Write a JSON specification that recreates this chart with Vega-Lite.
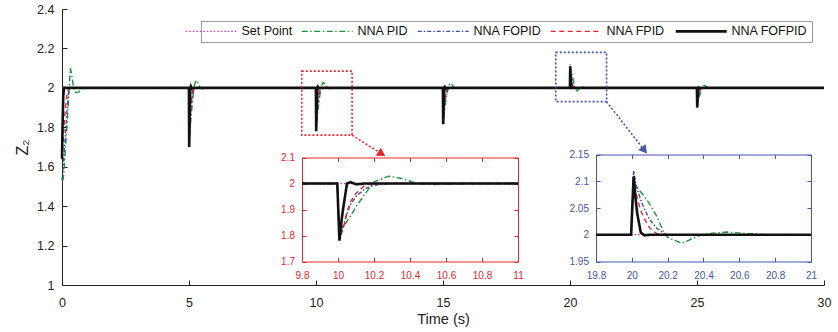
{
  "$schema": "https://vega.github.io/schema/vega-lite/v6.json",
  "width": 762,
  "height": 276,
  "autosize": {"type": "none"},
  "padding": {"left": 62, "top": 9, "right": 14, "bottom": 47},
  "config": {
    "view": {"stroke": null},
    "font": "Liberation Sans",
    "axis": {"grid": false, "labelFont": "Liberation Sans", "titleFont": "Liberation Sans", "labelFlush": false, "labelOverlap": false, "titleFontWeight": "normal", "domainWidth": 1, "tickWidth": 1}
  },
  "datasets": {
    "z": [
      {"t": 0, "Set Point": 2, "NNA PID": 1.53, "NNA FOPID": 1.53, "NNA FPID": 1.64, "NNA FOFPID": 1.64},
      {"t": 0.02, "Set Point": 2, "NNA PID": 1.53, "NNA FOPID": 1.56, "NNA FPID": 1.68, "NNA FOFPID": 1.8},
      {"t": 0.05, "Set Point": 2, "NNA PID": 1.54, "NNA FOPID": 1.6, "NNA FPID": 1.74, "NNA FOFPID": 1.96},
      {"t": 0.08, "Set Point": 2, "NNA PID": 1.58, "NNA FOPID": 1.66, "NNA FPID": 1.8, "NNA FOFPID": 2},
      {"t": 0.1, "Set Point": 2, "NNA PID": 1.62, "NNA FOPID": 1.7, "NNA FPID": 1.84, "NNA FOFPID": 2},
      {"t": 0.15, "Set Point": 2, "NNA PID": 1.72, "NNA FOPID": 1.79, "NNA FPID": 1.92, "NNA FOFPID": 2},
      {"t": 0.2, "Set Point": 2, "NNA PID": 1.82, "NNA FOPID": 1.89, "NNA FPID": 1.97, "NNA FOFPID": 2},
      {"t": 0.25, "Set Point": 2, "NNA PID": 1.92, "NNA FOPID": 1.97, "NNA FPID": 1.99, "NNA FOFPID": 2},
      {"t": 0.3, "Set Point": 2, "NNA PID": 2.04, "NNA FOPID": 1.995, "NNA FPID": 2, "NNA FOFPID": 2},
      {"t": 0.33, "Set Point": 2, "NNA PID": 2.1, "NNA FOPID": 2, "NNA FPID": 2, "NNA FOFPID": 2},
      {"t": 0.38, "Set Point": 2, "NNA PID": 2.07, "NNA FOPID": 2, "NNA FPID": 2, "NNA FOFPID": 2},
      {"t": 0.45, "Set Point": 2, "NNA PID": 2.0, "NNA FOPID": 2, "NNA FPID": 2, "NNA FOFPID": 2},
      {"t": 0.55, "Set Point": 2, "NNA PID": 1.975, "NNA FOPID": 2, "NNA FPID": 2, "NNA FOFPID": 2},
      {"t": 0.65, "Set Point": 2, "NNA PID": 1.978, "NNA FOPID": 2, "NNA FPID": 2, "NNA FOFPID": 2},
      {"t": 0.8, "Set Point": 2, "NNA PID": 1.995, "NNA FOPID": 2, "NNA FPID": 2, "NNA FOFPID": 2},
      {"t": 1.0, "Set Point": 2, "NNA PID": 2, "NNA FOPID": 2, "NNA FPID": 2, "NNA FOFPID": 2},
      {"t": 4.996, "Set Point": 2, "NNA PID": 2, "NNA FOPID": 2, "NNA FPID": 2, "NNA FOFPID": 2},
      {"t": 5.008, "Set Point": 2, "NNA PID": 1.727, "NNA FOPID": 1.727, "NNA FPID": 1.715, "NNA FOFPID": 1.7},
      {"t": 5.02, "Set Point": 2, "NNA PID": 1.754, "NNA FOPID": 1.754, "NNA FPID": 1.74, "NNA FOFPID": 1.81},
      {"t": 5.03, "Set Point": 2, "NNA PID": 1.775, "NNA FOPID": 1.78, "NNA FPID": 1.766, "NNA FOFPID": 1.88},
      {"t": 5.05, "Set Point": 2, "NNA PID": 1.8, "NNA FOPID": 1.844, "NNA FPID": 1.85, "NNA FOFPID": 2},
      {"t": 5.07, "Set Point": 2, "NNA PID": 1.83, "NNA FOPID": 1.892, "NNA FPID": 1.904, "NNA FOFPID": 2.007},
      {"t": 5.1, "Set Point": 2, "NNA PID": 1.877, "NNA FOPID": 1.93, "NNA FPID": 1.95, "NNA FOFPID": 1.996},
      {"t": 5.15, "Set Point": 2, "NNA PID": 1.946, "NNA FOPID": 1.973, "NNA FPID": 1.991, "NNA FOFPID": 2},
      {"t": 5.2, "Set Point": 2, "NNA PID": 2.009, "NNA FOPID": 1.991, "NNA FPID": 2, "NNA FOFPID": 2},
      {"t": 5.28, "Set Point": 2, "NNA PID": 2.038, "NNA FOPID": 1.998, "NNA FPID": 2, "NNA FOFPID": 2},
      {"t": 5.35, "Set Point": 2, "NNA PID": 2.027, "NNA FOPID": 2, "NNA FPID": 2, "NNA FOFPID": 2},
      {"t": 5.44, "Set Point": 2, "NNA PID": 2, "NNA FOPID": 2, "NNA FPID": 2, "NNA FOFPID": 2},
      {"t": 5.53, "Set Point": 2, "NNA PID": 1.995, "NNA FOPID": 2, "NNA FPID": 2, "NNA FOFPID": 2},
      {"t": 5.65, "Set Point": 2, "NNA PID": 1.997, "NNA FOPID": 2, "NNA FPID": 2, "NNA FOFPID": 2},
      {"t": 5.75, "Set Point": 2, "NNA PID": 2, "NNA FOPID": 2, "NNA FPID": 2, "NNA FOFPID": 2},
      {"t": 9.8, "Set Point": 2, "NNA PID": 2, "NNA FOPID": 2, "NNA FPID": 2, "NNA FOFPID": 2},
      {"t": 9.996, "Set Point": 2, "NNA PID": 2, "NNA FOPID": 2, "NNA FPID": 2, "NNA FOFPID": 2},
      {"t": 10.008, "Set Point": 2, "NNA PID": 1.8, "NNA FOPID": 1.8, "NNA FPID": 1.79, "NNA FOFPID": 1.78},
      {"t": 10.02, "Set Point": 2, "NNA PID": 1.82, "NNA FOPID": 1.82, "NNA FPID": 1.81, "NNA FOFPID": 1.86},
      {"t": 10.03, "Set Point": 2, "NNA PID": 1.834, "NNA FOPID": 1.84, "NNA FPID": 1.828, "NNA FOFPID": 1.91},
      {"t": 10.05, "Set Point": 2, "NNA PID": 1.855, "NNA FOPID": 1.885, "NNA FPID": 1.89, "NNA FOFPID": 2},
      {"t": 10.07, "Set Point": 2, "NNA PID": 1.875, "NNA FOPID": 1.92, "NNA FPID": 1.93, "NNA FOFPID": 2.005},
      {"t": 10.1, "Set Point": 2, "NNA PID": 1.91, "NNA FOPID": 1.95, "NNA FPID": 1.962, "NNA FOFPID": 1.997},
      {"t": 10.15, "Set Point": 2, "NNA PID": 1.96, "NNA FOPID": 1.98, "NNA FPID": 1.994, "NNA FOFPID": 2},
      {"t": 10.2, "Set Point": 2, "NNA PID": 2.006, "NNA FOPID": 1.993, "NNA FPID": 2, "NNA FOFPID": 2},
      {"t": 10.28, "Set Point": 2, "NNA PID": 2.028, "NNA FOPID": 1.999, "NNA FPID": 2, "NNA FOFPID": 2},
      {"t": 10.35, "Set Point": 2, "NNA PID": 2.02, "NNA FOPID": 2, "NNA FPID": 2, "NNA FOFPID": 2},
      {"t": 10.44, "Set Point": 2, "NNA PID": 2, "NNA FOPID": 2, "NNA FPID": 2, "NNA FOFPID": 2},
      {"t": 10.53, "Set Point": 2, "NNA PID": 1.996, "NNA FOPID": 2, "NNA FPID": 2, "NNA FOFPID": 2},
      {"t": 10.65, "Set Point": 2, "NNA PID": 1.998, "NNA FOPID": 2, "NNA FPID": 2, "NNA FOFPID": 2},
      {"t": 10.75, "Set Point": 2, "NNA PID": 2, "NNA FOPID": 2, "NNA FPID": 2, "NNA FOFPID": 2},
      {"t": 11, "Set Point": 2, "NNA PID": 2, "NNA FOPID": 2, "NNA FPID": 2, "NNA FOFPID": 2},
      {"t": 14.996, "Set Point": 2, "NNA PID": 2, "NNA FOPID": 2, "NNA FPID": 2, "NNA FOFPID": 2},
      {"t": 15.008, "Set Point": 2, "NNA PID": 1.832, "NNA FOPID": 1.832, "NNA FPID": 1.824, "NNA FOFPID": 1.815},
      {"t": 15.02, "Set Point": 2, "NNA PID": 1.848, "NNA FOPID": 1.848, "NNA FPID": 1.84, "NNA FOFPID": 1.88},
      {"t": 15.03, "Set Point": 2, "NNA PID": 1.861, "NNA FOPID": 1.865, "NNA FPID": 1.855, "NNA FOFPID": 1.925},
      {"t": 15.05, "Set Point": 2, "NNA PID": 1.878, "NNA FOPID": 1.904, "NNA FPID": 1.907, "NNA FOFPID": 2},
      {"t": 15.07, "Set Point": 2, "NNA PID": 1.895, "NNA FOPID": 1.933, "NNA FPID": 1.94, "NNA FOFPID": 2.004},
      {"t": 15.1, "Set Point": 2, "NNA PID": 1.924, "NNA FOPID": 1.957, "NNA FPID": 1.968, "NNA FOFPID": 1.997},
      {"t": 15.15, "Set Point": 2, "NNA PID": 1.967, "NNA FOPID": 1.983, "NNA FPID": 1.995, "NNA FOFPID": 2},
      {"t": 15.2, "Set Point": 2, "NNA PID": 2.005, "NNA FOPID": 1.994, "NNA FPID": 2, "NNA FOFPID": 2},
      {"t": 15.28, "Set Point": 2, "NNA PID": 2.024, "NNA FOPID": 1.999, "NNA FPID": 2, "NNA FOFPID": 2},
      {"t": 15.35, "Set Point": 2, "NNA PID": 2.017, "NNA FOPID": 2, "NNA FPID": 2, "NNA FOFPID": 2},
      {"t": 15.44, "Set Point": 2, "NNA PID": 2, "NNA FOPID": 2, "NNA FPID": 2, "NNA FOFPID": 2},
      {"t": 15.53, "Set Point": 2, "NNA PID": 1.997, "NNA FOPID": 2, "NNA FPID": 2, "NNA FOFPID": 2},
      {"t": 15.65, "Set Point": 2, "NNA PID": 1.998, "NNA FOPID": 2, "NNA FPID": 2, "NNA FOFPID": 2},
      {"t": 15.75, "Set Point": 2, "NNA PID": 2, "NNA FOPID": 2, "NNA FPID": 2, "NNA FOFPID": 2},
      {"t": 19.8, "Set Point": 2, "NNA PID": 2, "NNA FOPID": 2, "NNA FPID": 2, "NNA FOFPID": 2},
      {"t": 19.996, "Set Point": 2, "NNA PID": 2, "NNA FOPID": 2, "NNA FPID": 2, "NNA FOFPID": 2},
      {"t": 20.01, "Set Point": 2, "NNA PID": 2.1, "NNA FOPID": 2.12, "NNA FPID": 2.1, "NNA FOFPID": 2.109},
      {"t": 20.02, "Set Point": 2, "NNA PID": 2.093, "NNA FOPID": 2.1, "NNA FPID": 2.085, "NNA FOFPID": 2.07},
      {"t": 20.03, "Set Point": 2, "NNA PID": 2.088, "NNA FOPID": 2.085, "NNA FPID": 2.068, "NNA FOFPID": 2.04},
      {"t": 20.05, "Set Point": 2, "NNA PID": 2.08, "NNA FOPID": 2.065, "NNA FPID": 2.045, "NNA FOFPID": 2.004},
      {"t": 20.07, "Set Point": 2, "NNA PID": 2.072, "NNA FOPID": 2.048, "NNA FPID": 2.03, "NNA FOFPID": 1.999},
      {"t": 20.1, "Set Point": 2, "NNA PID": 2.057, "NNA FOPID": 2.028, "NNA FPID": 2.0125, "NNA FOFPID": 2},
      {"t": 20.14, "Set Point": 2, "NNA PID": 2.034, "NNA FOPID": 2.012, "NNA FPID": 2.002, "NNA FOFPID": 2},
      {"t": 20.18, "Set Point": 2, "NNA PID": 2.003, "NNA FOPID": 2.002, "NNA FPID": 2, "NNA FOFPID": 2},
      {"t": 20.2, "Set Point": 2, "NNA PID": 1.995, "NNA FOPID": 2, "NNA FPID": 2, "NNA FOFPID": 2},
      {"t": 20.28, "Set Point": 2, "NNA PID": 1.984, "NNA FOPID": 2, "NNA FPID": 2, "NNA FOFPID": 2},
      {"t": 20.38, "Set Point": 2, "NNA PID": 1.999, "NNA FOPID": 2, "NNA FPID": 2, "NNA FOFPID": 2},
      {"t": 20.45, "Set Point": 2, "NNA PID": 2.003, "NNA FOPID": 2, "NNA FPID": 2, "NNA FOFPID": 2},
      {"t": 20.53, "Set Point": 2, "NNA PID": 2.005, "NNA FOPID": 2, "NNA FPID": 2, "NNA FOFPID": 2},
      {"t": 20.65, "Set Point": 2, "NNA PID": 2.002, "NNA FOPID": 2, "NNA FPID": 2, "NNA FOFPID": 2},
      {"t": 20.75, "Set Point": 2, "NNA PID": 2, "NNA FOPID": 2, "NNA FPID": 2, "NNA FOFPID": 2},
      {"t": 21, "Set Point": 2, "NNA PID": 2, "NNA FOPID": 2, "NNA FPID": 2, "NNA FOFPID": 2},
      {"t": 24.996, "Set Point": 2, "NNA PID": 2, "NNA FOPID": 2, "NNA FPID": 2, "NNA FOFPID": 2},
      {"t": 25.008, "Set Point": 2, "NNA PID": 1.909, "NNA FOPID": 1.909, "NNA FPID": 1.905, "NNA FOFPID": 1.9},
      {"t": 25.02, "Set Point": 2, "NNA PID": 1.918, "NNA FOPID": 1.918, "NNA FPID": 1.914, "NNA FOFPID": 1.935},
      {"t": 25.03, "Set Point": 2, "NNA PID": 1.925, "NNA FOPID": 1.927, "NNA FPID": 1.922, "NNA FOFPID": 1.96},
      {"t": 25.05, "Set Point": 2, "NNA PID": 1.934, "NNA FOPID": 1.948, "NNA FPID": 1.95, "NNA FOFPID": 2},
      {"t": 25.07, "Set Point": 2, "NNA PID": 1.943, "NNA FOPID": 1.964, "NNA FPID": 1.968, "NNA FOFPID": 2.002},
      {"t": 25.1, "Set Point": 2, "NNA PID": 1.959, "NNA FOPID": 1.977, "NNA FPID": 1.983, "NNA FOFPID": 1.999},
      {"t": 25.15, "Set Point": 2, "NNA PID": 1.982, "NNA FOPID": 1.991, "NNA FPID": 1.997, "NNA FOFPID": 2},
      {"t": 25.2, "Set Point": 2, "NNA PID": 2.003, "NNA FOPID": 1.997, "NNA FPID": 2, "NNA FOFPID": 2},
      {"t": 25.28, "Set Point": 2, "NNA PID": 2.013, "NNA FOPID": 2, "NNA FPID": 2, "NNA FOFPID": 2},
      {"t": 25.35, "Set Point": 2, "NNA PID": 2.009, "NNA FOPID": 2, "NNA FPID": 2, "NNA FOFPID": 2},
      {"t": 25.44, "Set Point": 2, "NNA PID": 2, "NNA FOPID": 2, "NNA FPID": 2, "NNA FOFPID": 2},
      {"t": 25.53, "Set Point": 2, "NNA PID": 1.998, "NNA FOPID": 2, "NNA FPID": 2, "NNA FOFPID": 2},
      {"t": 25.75, "Set Point": 2, "NNA PID": 2, "NNA FOPID": 2, "NNA FPID": 2, "NNA FOFPID": 2},
      {"t": 30, "Set Point": 2, "NNA PID": 2, "NNA FOPID": 2, "NNA FPID": 2, "NNA FOFPID": 2}
    ],
    "boxes": [
      {"c": "r", "t0": 9.44, "t1": 11.42, "z0": 1.76, "z1": 2.085, "ta": 12.59, "za": 1.665},
      {"c": "b", "t0": 19.44, "t1": 21.44, "z0": 1.93, "z1": 2.18, "ta": 22.93, "za": 1.683}
    ]
  },
  "layer": [
    {
      "data": {"name": "z"},
      "transform": [{"fold": ["Set Point", "NNA PID", "NNA FOPID", "NNA FPID", "NNA FOFPID"], "as": ["key", "z"]}],
      "mark": {"type": "line", "strokeCap": "butt"},
      "encoding": {
        "x": {"field": "t", "type": "quantitative", "scale": {"domain": [0, 30], "nice": false, "zero": false},
          "axis": {"orient": "bottom", "values": [0, 5, 10, 15, 20, 25, 30], "format": "~g", "title": "Time (s)", "titleFontSize": 14.5, "titleColor": "#222", "titlePadding": 4, "labelFontSize": 12.5, "labelColor": "#222", "labelPadding": 16, "tickSize": -5, "domainColor": "#222", "tickColor": "#222"}},
        "y": {"field": "z", "type": "quantitative", "scale": {"domain": [1, 2.4], "nice": false, "zero": false},
          "axis": {"orient": "left", "values": [1, 1.2, 1.4, 1.6, 1.8, 2, 2.2, 2.4], "format": "~g", "title": "Z₂", "titleFontSize": 16, "titleColor": "#222", "titlePadding": 6, "labelFontSize": 12.5, "labelColor": "#222", "labelPadding": 13, "tickSize": -5, "domainColor": "#222", "tickColor": "#222"}},
        "color": {"field": "key", "type": "nominal",
          "scale": {"domain": ["Set Point", "NNA PID", "NNA FOPID", "NNA FPID", "NNA FOFPID"], "range": ["#d23cb4", "#22913f", "#3a4ea3", "#e8232b", "#111111"]},
          "legend": {"title": null, "orient": "top-right", "offset": 12, "direction": "horizontal", "symbolType": "stroke", "symbolSize": 2600, "symbolStrokeWidth": 1.4, "labelFontSize": 12.5, "labelFont": "Liberation Sans", "labelColor": "#111", "strokeColor": "#9a9a9a", "fillColor": "white", "padding": 4, "columnPadding": 5, "labelOffset": 24,
            "encode": {"symbols": {"update": {"strokeWidth": {"signal": "datum.value === 'NNA FOFPID' ? 2.6 : 1.4"}}}}}},
        "strokeDash": {"field": "key", "type": "nominal",
          "scale": {"domain": ["Set Point", "NNA PID", "NNA FOPID", "NNA FPID", "NNA FOFPID"], "range": [[1.5, 2], [6, 2.5, 1.5, 2.5], [4, 2, 1.5, 2], [5, 3.5], [1, 0]]}},
        "strokeWidth": {"condition": {"test": "datum.key === 'NNA FOFPID'", "value": 2.6}, "value": 1.4}
      }
    },
    {
      "data": {"name": "boxes"},
      "layer": [
        {
          "mark": {"type": "rect", "fill": "transparent", "strokeWidth": 1.6, "strokeDash": [2, 2]},
          "encoding": {
            "x": {"field": "t0", "type": "quantitative", "scale": {"domain": [0, 30], "nice": false, "zero": false},
              "axis": {"orient": "top", "values": [0, 5, 10, 15, 20, 25, 30], "labels": false, "title": null, "tickSize": -5, "domainColor": "#222", "tickColor": "#222"}},
            "x2": {"field": "t1"},
            "y": {"field": "z0", "type": "quantitative", "scale": {"domain": [1, 2.4], "nice": false, "zero": false},
              "axis": {"orient": "right", "values": [1, 1.2, 1.4, 1.6, 1.8, 2, 2.2, 2.4], "labels": false, "title": null, "tickSize": -5, "domainColor": "#222", "tickColor": "#222"}},
            "y2": {"field": "z1"},
            "stroke": {"field": "c", "type": "nominal", "scale": {"domain": ["r", "b"], "range": ["#e3262e", "#4455aa"]}, "legend": null}
          }
        },
        {
          "mark": {"type": "rule", "strokeWidth": 1.6, "strokeDash": [2, 2]},
          "encoding": {
            "x": {"field": "t1", "type": "quantitative", "axis": null},
            "x2": {"field": "ta"},
            "y": {"field": "z0", "type": "quantitative", "axis": null},
            "y2": {"field": "za"},
            "stroke": {"field": "c", "type": "nominal", "legend": null}
          }
        },
        {
          "transform": [{"filter": "datum.c === 'r'"}],
          "mark": {"type": "point", "shape": "triangle-up", "filled": true, "size": 90, "opacity": 1, "color": "#e3262e", "angle": 122},
          "encoding": {
            "x": {"field": "ta", "type": "quantitative", "axis": null},
            "y": {"field": "za", "type": "quantitative", "axis": null}
          }
        },
        {
          "transform": [{"filter": "datum.c === 'b'"}],
          "mark": {"type": "point", "shape": "triangle-up", "filled": true, "size": 90, "opacity": 1, "color": "#4455aa", "angle": 142},
          "encoding": {
            "x": {"field": "ta", "type": "quantitative", "axis": null},
            "y": {"field": "za", "type": "quantitative", "axis": null}
          }
        }
      ]
    },
    {
      "data": {"name": "z"},
      "transform": [{"filter": {"field": "t", "range": [9.8, 11]}}, {"fold": ["Set Point", "NNA PID", "NNA FOPID", "NNA FPID", "NNA FOFPID"], "as": ["key", "z"]}],
      "mark": {"type": "line", "strokeCap": "butt"},
      "encoding": {
        "x": {"field": "t", "type": "quantitative", "scale": {"domain": [9.8, 11], "range": [240, 456], "nice": false, "zero": false},
          "axis": {"orient": "bottom", "offset": -23.5, "values": [9.8, 10, 10.2, 10.4, 10.6, 10.8, 11], "format": "~g", "title": null, "labelFontSize": 10, "labelPadding": 13, "tickSize": -4, "domainColor": "#e3262e", "tickColor": "#e3262e", "labelColor": "#e3262e"}},
        "y": {"field": "z", "type": "quantitative", "scale": {"domain": [1.7, 2.1], "range": [252.5, 148.5], "nice": false, "zero": false},
          "axis": {"orient": "left", "offset": -240, "values": [1.7, 1.8, 1.9, 2, 2.1], "format": "~g", "title": null, "labelFontSize": 10, "labelPadding": 11.5, "tickSize": -4, "domainColor": "#e3262e", "tickColor": "#e3262e", "labelColor": "#e3262e"}},
        "color": {"field": "key", "type": "nominal"},
        "strokeDash": {"field": "key", "type": "nominal"},
        "strokeWidth": {"condition": {"test": "datum.key === 'NNA FOFPID'", "value": 2.6}, "value": 1.4}
      }
    },
    {
      "data": {"name": "z"},
      "transform": [{"filter": "datum.t === 11"}],
      "mark": {"type": "point", "opacity": 0},
      "encoding": {
        "x": {"field": "t", "type": "quantitative", "scale": {"domain": [9.8, 11], "range": [240, 456], "nice": false, "zero": false},
          "axis": {"orient": "top", "offset": -148.5, "values": [9.8, 10, 10.2, 10.4, 10.6, 10.8, 11], "labels": false, "title": null, "tickSize": -4, "domainColor": "#e3262e", "tickColor": "#e3262e"}},
        "y": {"field": "Set Point", "type": "quantitative", "scale": {"domain": [1.7, 2.1], "range": [252.5, 148.5], "nice": false, "zero": false},
          "axis": {"orient": "right", "offset": -306, "values": [1.7, 1.8, 1.9, 2, 2.1], "labels": false, "title": null, "tickSize": -4, "domainColor": "#e3262e", "tickColor": "#e3262e"}}
      }
    },
    {
      "data": {"name": "z"},
      "transform": [{"filter": {"field": "t", "range": [19.8, 21]}}, {"fold": ["Set Point", "NNA PID", "NNA FOPID", "NNA FPID", "NNA FOFPID"], "as": ["key", "z"]}],
      "mark": {"type": "line", "strokeCap": "butt"},
      "encoding": {
        "x": {"field": "t", "type": "quantitative", "scale": {"domain": [19.8, 21], "range": [534, 749], "nice": false, "zero": false},
          "axis": {"orient": "bottom", "offset": -23.5, "values": [19.8, 20, 20.2, 20.4, 20.6, 20.8, 21], "format": "~g", "title": null, "labelFontSize": 10, "labelPadding": 13, "tickSize": -4, "domainColor": "#4455aa", "tickColor": "#4455aa", "labelColor": "#4455aa"}},
        "y": {"field": "z", "type": "quantitative", "scale": {"domain": [1.95, 2.15], "range": [252.5, 145.5], "nice": false, "zero": false},
          "axis": {"orient": "left", "offset": -534, "values": [1.95, 2, 2.05, 2.1, 2.15], "format": "~g", "title": null, "labelFontSize": 10, "labelPadding": 11.5, "tickSize": -4, "domainColor": "#4455aa", "tickColor": "#4455aa", "labelColor": "#4455aa"}},
        "color": {"field": "key", "type": "nominal"},
        "strokeDash": {"field": "key", "type": "nominal"},
        "strokeWidth": {"condition": {"test": "datum.key === 'NNA FOFPID'", "value": 2.6}, "value": 1.4}
      }
    },
    {
      "data": {"name": "z"},
      "transform": [{"filter": "datum.t === 21"}],
      "mark": {"type": "point", "opacity": 0},
      "encoding": {
        "x": {"field": "t", "type": "quantitative", "scale": {"domain": [19.8, 21], "range": [534, 749], "nice": false, "zero": false},
          "axis": {"orient": "top", "offset": -145.5, "values": [19.8, 20, 20.2, 20.4, 20.6, 20.8, 21], "labels": false, "title": null, "tickSize": -4, "domainColor": "#4455aa", "tickColor": "#4455aa"}},
        "y": {"field": "Set Point", "type": "quantitative", "scale": {"domain": [1.95, 2.15], "range": [252.5, 145.5], "nice": false, "zero": false},
          "axis": {"orient": "right", "offset": -13, "values": [1.95, 2, 2.05, 2.1, 2.15], "labels": false, "title": null, "tickSize": -4, "domainColor": "#4455aa", "tickColor": "#4455aa"}}
      }
    }
  ],
  "resolve": {"scale": {"x": "independent", "y": "independent"}, "axis": {"x": "independent", "y": "independent"}}
}
